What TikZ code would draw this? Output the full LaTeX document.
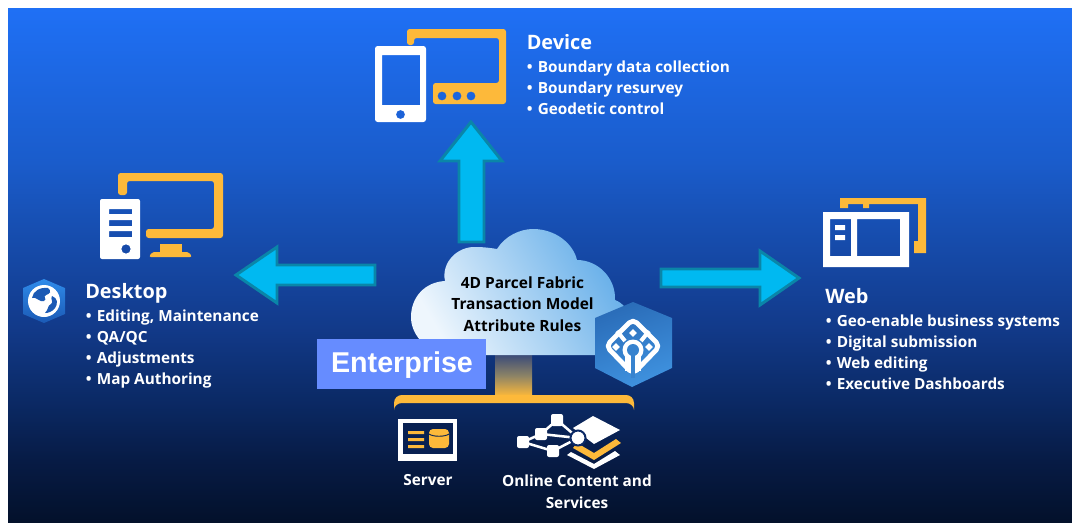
\documentclass[tikz,border=0pt]{standalone}
\usepackage{fontspec}
\setmainfont{Open Sans}
\newfontfamily\entfont{Liberation Sans}
\usetikzlibrary{calc}
\definecolor{gold}{HTML}{FDB93A}
\definecolor{cyanfill}{HTML}{00B9F1}
\definecolor{cyanedge}{HTML}{0A86A8}
\definecolor{entblue}{HTML}{668CFF}
\definecolor{bga}{HTML}{03112B}
\definecolor{bgb}{HTML}{071B45}
\definecolor{bgc}{HTML}{0B2A66}
\definecolor{bgd}{HTML}{123A8A}
\definecolor{bge}{HTML}{1A5CCB}
\definecolor{bgf}{HTML}{1F70F5}
\definecolor{hexa}{HTML}{3F92DF}
\definecolor{hexb}{HTML}{2A6CB8}
\definecolor{globa}{HTML}{2F8BEA}
\definecolor{globb}{HTML}{1B5AB5}
\definecolor{cloudlight}{HTML}{EEF6FD}
\definecolor{cloudblue}{HTML}{5FABE8}
\definecolor{stemtop}{HTML}{3C4C78}
\definecolor{stemmid}{HTML}{8C8366}
\pgfdeclareverticalshading{bgshade}{100bp}{
 color(0bp)=(bga); color(25bp)=(bga); color(31bp)=(bgb); color(37bp)=(bgc);
 color(44bp)=(bgd); color(60bp)=(bge); color(75bp)=(bgf); color(100bp)=(bgf)}
\newcommand{\bl}{\makebox[8.3pt][l]{\textbullet}}
\tikzset{
 x=0.75pt,y=-0.75pt,
 headtext/.style={font=\bfseries\fontsize{14.9}{17}\selectfont,text=white,anchor=west,inner sep=0pt},
 bultext/.style={font=\bfseries\fontsize{11.5}{15.75}\selectfont,text=white,anchor=west,inner sep=0pt,align=left},
 labtext/.style={font=\bfseries\fontsize{11.5}{16.3}\selectfont,text=white,align=center,inner sep=0pt},
 arrowshape/.style={fill=cyanfill,draw=cyanedge,line width=2.2pt,line join=miter},
 netline/.style={draw=white,line width=1.9pt},
 netbox/.style={fill=white,rounded corners=1.5pt},
}
\begin{document}
\begin{tikzpicture}
\useasboundingbox (0,0) rectangle (1072,522);
\fill[white] (0,0) rectangle (1072,522);
\shade[shading=bgshade] (8,8) rectangle (1072,522);
% Arrows
\draw[arrowshape] (459,242) -- (459,161) -- (440,161) -- (471,122) -- (502,161) -- (484,161) -- (484,242) -- cycle;
\draw[arrowshape] (375,265) -- (277,265) -- (277,247) -- (236,275) -- (277,303) -- (277,285) -- (375,285) -- cycle;
\draw[arrowshape] (661,269) -- (760,269) -- (760,251) -- (799,278) -- (760,305) -- (760,287) -- (661,287) -- cycle;
% Device icon
\fill[gold,rounded corners=2pt,even odd rule] (407,45) -- (407,29) -- (506,29) -- (506,104) -- (433,104) -- (433,83) -- (499,83) -- (499,38) -- (414,38) -- (414,45) -- cycle
  (442,96) circle[radius=4.5] (457,96) circle[radius=4.5] (471,96) circle[radius=4.5];
\fill[white,even odd rule,rounded corners=2pt] (375,46) rectangle (426,122) [sharp corners] (382,55) rectangle (420,105) (400.5,114.5) circle[radius=4.5];
% Desktop icon
\fill[gold,rounded corners=2pt] (118,195) -- (118,173) -- (223,173) -- (223,238) -- (146,238) -- (146,229) -- (214,229) -- (214,181) -- (127,181) -- (127,195) -- cycle;
\fill[gold] (160,244) rectangle (182,252);
\fill[gold,rounded corners=1.5pt] (149,257) -- (152,252) -- (189,252) -- (192,257) -- cycle;
\fill[white,even odd rule,rounded corners=1.5pt] (100,199) rectangle (140,259) [sharp corners] (109,209) rectangle (132,214) (109,220) rectangle (132,226) (109,231) rectangle (132,237) (126,249) circle[radius=4.7];
% Desktop hexagon with globe
\shade[top color=globa,bottom color=globb] (44,279) -- (65,288) -- (65,314) -- (44,323) -- (23,314) -- (23,288) -- cycle;
\fill[white] (44,301) circle[radius=16];
\fill[globb] (32,298) .. controls (33,291) and (40,287) .. (48,288) .. controls (52,291) and (50,294) .. (46,295) .. controls (42,297) and (48,299) .. (44,301) .. controls (40,303) and (36,296) .. (32,298) -- cycle;
\fill[globb] (52,296) .. controls (58,298) and (58,304) .. (55,308) .. controls (52,312) and (48,313) .. (45,313) .. controls (49,309) and (47,306) .. (51,304) .. controls (54,302) and (50,299) .. (52,296) -- cycle;
% Web icon
\fill[gold] (840,198) -- (926,198) -- (926,253) -- (914,253) -- (914,241) -- (918,241) -- (918,204) -- (869,204) -- (869,208) -- (863,208) -- (863,204) -- (848,204) -- (848,208) -- (840,208) -- cycle;
\fill[white,even odd rule] (823,212) rectangle (909,267) (830,219) rectangle (851,256) (857,219) rectangle (900,256);
\fill[white] (835,225) rectangle (845,230) (835,235) rectangle (845,240);
% Stem and bracket
\shade[top color=stemtop,bottom color=gold,middle color=stemmid] (495,355) rectangle (532,396);
% Cloud
\shade[left color=cloudlight,right color=cloudblue,shading angle=120]
  (420,340) .. controls (414,333) and (411,325) .. (411,317)
  .. controls (411,297) and (425,282) .. (445,281)
  .. controls (441,262) and (458,246) .. (476,247)
  .. controls (484,247) and (491,248) .. (497,249)
  .. controls (505,236) and (520,229) .. (533,229)
  .. controls (555,229) and (573,243) .. (577,260)
  .. controls (598,260) and (616,278) .. (615,300)
  .. controls (632,306) and (640,335) .. (620,355)
  -- (440,355) -- cycle;
\node[font=\bfseries\fontsize{11.6}{16.2}\selectfont,text=black,align=center,inner sep=0pt] (cloudtext) at (522.5,304) {4D Parcel Fabric\\Transaction Model\\Attribute Rules};
% Enterprise
\fill[entblue] (317,339) rectangle (486,389);
\node[inner sep=0pt,text=white,font=\entfont\bfseries\fontsize{21.5}{24}\selectfont] (ent) at (402,365) {Enterprise};
% Bracket
\fill[gold] (394,410) -- (394,403) .. controls (394,398) and (398,395) .. (402,395) -- (626,395) .. controls (630,395) and (634,398) .. (634,403) -- (634,410) .. controls (634,406) and (630,403) .. (626,403) -- (402,403) .. controls (398,403) and (394,406) .. (394,410) -- cycle;
% Parcel hexagon
\shade[left color=hexa,right color=hexb,shading angle=200] (633,302) -- (672,318) -- (672,368) -- (632,387) -- (595,368) -- (595,318) -- cycle;
\draw[white,line width=3.6pt,rounded corners=4pt,line join=round] (633,319) -- (660,346) -- (633,374) -- (606,346) -- cycle;
\draw[white,line width=3pt] (617,331) -- (625,341) (649,331) -- (641,341);
\fill[white] (633,350) circle[radius=10.5];
\draw[white,line width=12pt] (633,350) -- (633,371);
\fill[hexa!60!hexb] (633,350) circle[radius=6];
\draw[hexa!60!hexb,line width=3.6pt] (633,350) -- (633,378);
\foreach \px/\py in {633/333,616/347,649/347}
  \fill[white,rotate around={45:(\px,\py)}] (\px-2.7,\py-2.7) rectangle (\px+2.7,\py+2.7);
% Server icon
\fill[white] (398,419) rectangle (457,461);
\fill[bgb!60!bgc] (403,423) rectangle (453,454);
\fill[gold] (408,431) rectangle (424,434) (408,438) rectangle (424,441) (408,445) rectangle (424,448);
\fill[gold,rounded corners=3pt] (429,429) rectangle (449,448);
\draw[bgb!60!bgc,line width=0.7pt] (429,434) .. controls (433,437) and (445,437) .. (449,434);
% Online content icon
\fill[white] (593,416) -- (620,430) -- (594,444) -- (573,428) -- cycle;
\fill[gold] (577,443) -- (594,453) -- (616,439) -- (621,443) -- (594,460) -- (573,448) -- cycle;
\fill[white] (571,452) -- (594,464) -- (615,451) -- (620,455) -- (594,469) -- (567,455) -- cycle;
\coordinate (na) at (557,420); \coordinate (nb) at (541,434); \coordinate (nc) at (523,442); \coordinate (nd) at (553,451); \coordinate (ne) at (578,438);
\draw[netline] (na) -- (nb) (nc) -- (nb) (nc) -- (nd) (nb) -- (ne) (na) -- (ne) (nd) -- (ne);
\foreach \n in {na,nb,nc,nd}
  \fill[netbox] ($(\n)+(-6,-6)$) rectangle ($(\n)+(6,6)$);
\fill[white,draw=bgc,line width=1.5pt] (ne) circle[radius=7.5];
% Text
\node[headtext] (dev) at (526.5,42.5) {Device};
\node[bultext] (devl) at (526.5,87.5) {\bl Boundary data collection\\\bl Boundary resurvey\\\bl Geodetic control};
\node[headtext] (dsk) at (85,293.5) {Desktop};
\node[bultext] (dskl) at (85.5,349) {\bl Editing, Maintenance\\\bl QA/QC\\\bl Adjustments\\\bl Map Authoring};
\node[headtext] (web) at (825,296.5) {Web};
\node[bultext] (webl) at (825.5,352) {\bl Geo-enable business systems\\\bl Digital submission\\\bl Web editing\\\bl Executive Dashboards};
\node[labtext] (srv) at (428,480.5) {Server};
\node[labtext] (onl) at (577,491.5) {Online Content and\\Services};
\end{tikzpicture}
\end{document}
